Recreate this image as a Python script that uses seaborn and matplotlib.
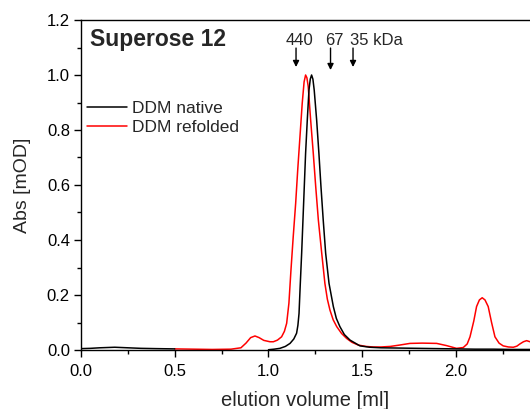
import numpy as np
import pandas as pd
import seaborn as sns
import matplotlib.pyplot as plt
from matplotlib.ticker import MultipleLocator

# DDM native (black) - two recorded segments
native_x1 = [0.00, 0.05, 0.10, 0.18, 0.25, 0.32, 0.40, 0.50]
native_y1 = [0.005, 0.006, 0.008, 0.010, 0.008, 0.006, 0.005, 0.004]
native_x2 = [1.000, 1.030, 1.061, 1.090, 1.115, 1.135, 1.150, 1.157, 1.163, 1.169, 1.177,
             1.184, 1.191, 1.198, 1.207, 1.216, 1.223, 1.230, 1.237, 1.244, 1.257, 1.269,
             1.280, 1.292, 1.305, 1.323, 1.346, 1.362, 1.381, 1.405, 1.435, 1.488, 1.540,
             1.600, 1.700, 1.800, 1.900, 2.000, 2.100, 2.200, 2.300, 2.395]
native_y2 = [0.001, 0.003, 0.006, 0.013, 0.024, 0.040, 0.061, 0.090, 0.133, 0.230, 0.352,
             0.473, 0.594, 0.715, 0.836, 0.945, 0.985, 1.000, 0.985, 0.945, 0.836, 0.715,
             0.594, 0.473, 0.352, 0.242, 0.158, 0.115, 0.085, 0.056, 0.036, 0.015, 0.010,
             0.008, 0.007, 0.006, 0.005, 0.004, 0.003, 0.003, 0.002, 0.002]

# DDM refolded (red)
refold_x = [0.500, 0.600, 0.700, 0.800, 0.853, 0.880, 0.905, 0.928, 0.950, 0.975, 1.008,
            1.026, 1.048, 1.070, 1.085, 1.097, 1.109, 1.120, 1.132, 1.145, 1.156, 1.168,
            1.180, 1.190, 1.198, 1.205, 1.212, 1.225, 1.239, 1.252, 1.266, 1.284, 1.301,
            1.314, 1.328, 1.345, 1.364, 1.390, 1.417, 1.445, 1.479, 1.520, 1.560, 1.600,
            1.650, 1.700, 1.755, 1.820, 1.897, 1.950, 2.003, 2.039, 2.060, 2.075, 2.095,
            2.110, 2.125, 2.140, 2.155, 2.172, 2.190, 2.208, 2.230, 2.252, 2.280, 2.306,
            2.325, 2.341, 2.360, 2.377, 2.395]
refold_y = [0.004, 0.003, 0.002, 0.003, 0.008, 0.025, 0.045, 0.051, 0.045, 0.035, 0.030,
            0.030, 0.036, 0.048, 0.068, 0.097, 0.170, 0.291, 0.412, 0.533, 0.655, 0.776,
            0.897, 0.975, 1.000, 0.990, 0.958, 0.836, 0.715, 0.594, 0.473, 0.352, 0.242,
            0.185, 0.145, 0.110, 0.085, 0.060, 0.042, 0.028, 0.018, 0.013, 0.011, 0.011,
            0.013, 0.018, 0.024, 0.025, 0.024, 0.016, 0.006, 0.009, 0.022, 0.048, 0.105,
            0.158, 0.182, 0.190, 0.182, 0.158, 0.100, 0.048, 0.025, 0.015, 0.011, 0.010,
            0.014, 0.022, 0.030, 0.034, 0.030]

marker_labels = ["440", "67", "35 kDa"]
marker_x = [1.147, 1.331, 1.451]

frames = [
    pd.DataFrame({"x": native_x1, "y": native_y1, "series": "DDM native", "seg": "n1"}),
    pd.DataFrame({"x": native_x2, "y": native_y2, "series": "DDM native", "seg": "n2"}),
    pd.DataFrame({"x": refold_x, "y": refold_y, "series": "DDM refolded", "seg": "r1"}),
]
df = pd.concat(frames, ignore_index=True)

sns.set_theme(style="ticks")
plt.rcParams["font.family"] = ["Liberation Sans", "DejaVu Sans"]

fig = plt.figure(figsize=(5.3, 4.09), dpi=100)
ax = fig.add_axes([81 / 530, 59 / 409, 449 / 530, 330 / 409])

sns.lineplot(data=df, x="x", y="y", hue="series", units="seg", estimator=None,
             palette={"DDM native": "black", "DDM refolded": "#ff0000"},
             hue_order=["DDM refolded", "DDM native"], linewidth=1.1, ax=ax,
             sort=False)

ax.set_xlim(0, 2.395)
ax.set_ylim(0, 1.2)
ax.xaxis.set_major_locator(MultipleLocator(0.5))
ax.xaxis.set_minor_locator(MultipleLocator(0.25))
ax.yaxis.set_major_locator(MultipleLocator(0.2))
ax.yaxis.set_minor_locator(MultipleLocator(0.1))
ax.xaxis.set_major_formatter(plt.FuncFormatter(lambda v, p: f"{v:.1f}"))
ax.yaxis.set_major_formatter(plt.FuncFormatter(lambda v, p: f"{v:.1f}"))
ax.tick_params(which="major", direction="out", length=5, width=1, labelsize=12,
               colors="black")
ax.tick_params(axis="x", which="major", pad=5)
ax.tick_params(axis="y", which="major", pad=3)
ax.tick_params(which="minor", direction="out", length=3, width=1, colors="black")
ax.tick_params(axis="x", which="both", top=False)
ax.tick_params(axis="y", which="both", right=False)
for s in ["left", "bottom", "top"]:
    ax.spines[s].set_linewidth(1)
    ax.spines[s].set_color("black")
ax.spines["right"].set_visible(False)

ax.set_xlabel("elution volume [ml]", fontsize=14.5, labelpad=9)
ax.set_ylabel("Abs [mOD]", fontsize=14, labelpad=11)

ax.text(0.02, 0.94, "Superose 12", transform=ax.transAxes, fontsize=16.5,
        fontweight="bold", ha="left", va="center")

tip_y = [1.029, 1.018, 1.029]
for lab, xv, ty in zip(marker_labels, marker_x, tip_y):
    ax.annotate("", xy=(xv, ty), xytext=(xv, 1.098),
                arrowprops=dict(arrowstyle="-|>", color="black", lw=1,
                                mutation_scale=9, shrinkA=0, shrinkB=0))
ax.text(1.166, 1.109, "440", ha="center", va="baseline", fontsize=12)
ax.text(1.352, 1.109, "67", ha="center", va="baseline", fontsize=12)
ax.text(1.435, 1.109, "35 kDa", ha="left", va="baseline", fontsize=12)

handles, labels = ax.get_legend_handles_labels()
order = [labels.index("DDM native"), labels.index("DDM refolded")]
leg = ax.legend([handles[i] for i in order], [labels[i] for i in order],
                loc="upper left", bbox_to_anchor=(0.014, 0.756), frameon=False,
                fontsize=12.5, handlelength=2.3, handletextpad=0.3,
                labelspacing=0.25, borderaxespad=0, borderpad=0)

fig.savefig("out.png", dpi=100)
